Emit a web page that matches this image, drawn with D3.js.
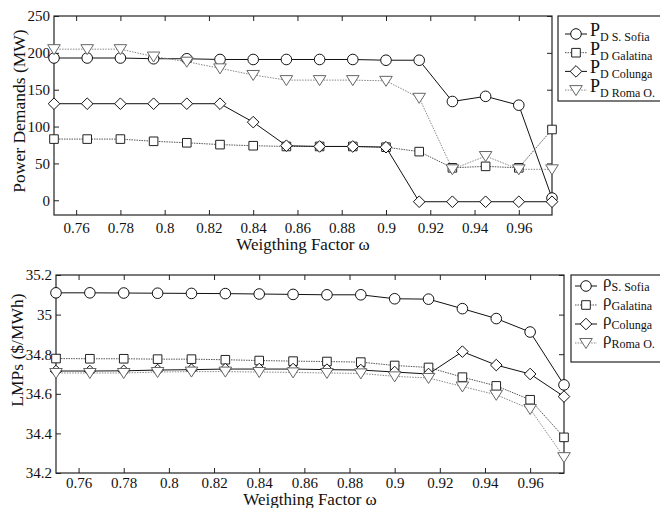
<!DOCTYPE html>
<html>
<head>
<meta charset="utf-8">
<script src="https://cdn.jsdelivr.net/npm/d3@7"></script>
</head>
<body style="margin:0; background:#fff">
<svg width="660" height="508"></svg>
<script>
// weighting factor values (x)
const omega = [0.75, 0.765, 0.78, 0.795, 0.81, 0.825, 0.84, 0.855, 0.87, 0.885, 0.9, 0.915, 0.93, 0.945, 0.96, 0.975];

// power demands (MW)
const pdSofia    = [193, 193, 193, 192, 192, 191, 191, 191, 191, 191, 190, 190, 134, 141, 129, 3];
const pdGalatina = [83, 83, 83, 80, 78, 75.5, 74, 73, 73, 73, 72, 66, 44, 46, 44, 96];
const pdColunga  = [131, 131, 131, 131, 131, 131, 106, 74, 73, 73, 72, -2, -2, -2, -2, -2];
const pdRoma     = [205, 205, 205, 195, 188, 179, 170, 163, 163, 163, 162, 139, 42, 60, 42, 42];

// LMPs ($/MWh)
const lmpSofia    = [35.11, 35.11, 35.109, 35.108, 35.107, 35.106, 35.104, 35.102, 35.10, 35.10, 35.08, 35.078, 35.03, 34.98, 34.912, 34.645];
const lmpGalatina = [34.778, 34.777, 34.777, 34.775, 34.775, 34.772, 34.768, 34.765, 34.763, 34.76, 34.743, 34.733, 34.684, 34.64, 34.57, 34.38];
const lmpColunga  = [34.715, 34.715, 34.716, 34.72, 34.722, 34.725, 34.725, 34.725, 34.722, 34.72, 34.71, 34.70, 34.813, 34.745, 34.70, 34.586];
const lmpRoma     = [34.705, 34.705, 34.705, 34.71, 34.712, 34.712, 34.71, 34.708, 34.705, 34.703, 34.688, 34.68, 34.637, 34.595, 34.523, 34.28];

const xTicks = [0.76, 0.78, 0.8, 0.82, 0.84, 0.86, 0.88, 0.9, 0.92, 0.94, 0.96];
const pdTicks = [0, 50, 100, 150, 200, 250];
const lmpTicks = [34.2, 34.4, 34.6, 34.8, 35, 35.2];

const names = ["S. Sofia", "Galatina", "Colunga", "Roma O."];
const shapes = ["circle", "square", "diamond", "tri"];
const lineColor = ["#111", "#555", "#111", "#888"];
const lineDash = [null, "1.5,1", null, "1.5,1.2"];
const markColor = ["#111", "#222", "#111", "#666"];

const svg = d3.select("svg");
svg.append("rect").attr("width", 660).attr("height", 508).attr("fill", "#fff");

// marker outlines, centred on the data point
function markerPath(shape) {
  switch (shape) {
    case "circle": return "M-5.3,0A5.3,5.3 0 1,0 5.3,0A5.3,5.3 0 1,0 -5.3,0Z";
    case "square": return "M-4.3,-4.3H4.3V4.3H-4.3Z";
    case "diamond": return "M0,-5.8L5.8,0L0,5.8L-5.8,0Z";
    case "tri": return "M-6.3,-4.5H6.3L0,5.5Z";
  }
}

function drawPanel(opt) {
  const x = d3.scaleLinear().domain([0.75, 0.975]).range([opt.left, opt.right]);
  const y = d3.scaleLinear().domain(opt.yDomain).range([opt.bottom, opt.top]);
  const g = svg.append("g");

  // axes with inward ticks
  g.append("g").attr("transform", `translate(0,${opt.bottom})`)
    .call(d3.axisBottom(x).tickValues(xTicks).tickSize(-5).tickSizeOuter(0).tickPadding(opt.xPad)
      .tickFormat(d => String(+d.toFixed(2))));
  g.append("g").attr("transform", `translate(0,${opt.top})`)
    .call(d3.axisTop(x).tickValues(xTicks).tickSize(-5).tickSizeOuter(0).tickFormat(""));
  g.append("g").attr("transform", `translate(${opt.left},0)`)
    .call(d3.axisLeft(y).tickValues(opt.yTicks).tickSize(-5).tickSizeOuter(0).tickPadding(4)
      .tickFormat(d => String(+d.toFixed(1))));
  g.append("g").attr("transform", `translate(${opt.right},0)`)
    .call(d3.axisRight(y).tickValues(opt.yTicks).tickSize(-5).tickSizeOuter(0).tickFormat(""));
  g.selectAll(".domain").remove();
  g.selectAll(".tick line").attr("stroke", "#222");
  g.selectAll(".tick text").attr("font-size", 15).attr("fill", "#111");

  // frame
  g.append("rect")
    .attr("x", opt.left).attr("y", opt.top)
    .attr("width", opt.right - opt.left).attr("height", opt.bottom - opt.top)
    .attr("fill", "none").attr("stroke", "#222").attr("stroke-width", 1.2);

  // series
  const line = d3.line().x((d, i) => x(omega[i])).y(d => y(d));
  opt.series.forEach((s, k) => {
    g.append("path").datum(s)
      .attr("d", line)
      .attr("fill", "none")
      .attr("stroke", lineColor[k])
      .attr("stroke-width", 1)
      .attr("stroke-dasharray", lineDash[k]);
  });
  opt.series.forEach((s, k) => {
    g.selectAll(null).data(s).enter().append("path")
      .attr("transform", (d, i) => `translate(${x(omega[i])},${y(d)})`)
      .attr("d", markerPath(shapes[k]))
      .attr("fill", "#fff")
      .attr("stroke", markColor[k])
      .attr("stroke-width", 1);
  });

  // axis labels
  g.append("text")
    .attr("x", (opt.left + opt.right) / 2).attr("y", opt.xLabelY)
    .attr("text-anchor", "middle").attr("font-size", 17).attr("fill", "#111")
    .text("Weigthing Factor ω");
  g.append("text")
    .attr("transform", `translate(${opt.yLabelX},${opt.yLabelMid}) rotate(-90)`)
    .attr("text-anchor", "middle").attr("font-size", 17.5).attr("fill", "#111")
    .text(opt.yLabel);

  // legend
  const L = opt.legend;
  g.append("rect")
    .attr("x", L.x).attr("y", L.y).attr("width", L.w).attr("height", L.h)
    .attr("fill", "#fff").attr("stroke", "#222").attr("stroke-width", 1.2);
  names.forEach((n, k) => {
    const cy = L.y + L.first + k * L.step;
    g.append("line")
      .attr("x1", L.mx - 11).attr("x2", L.mx + 11).attr("y1", cy).attr("y2", cy)
      .attr("stroke", lineColor[k]).attr("stroke-width", 1).attr("stroke-dasharray", lineDash[k]);
    g.append("path")
      .attr("transform", `translate(${L.mx},${cy})`)
      .attr("d", markerPath(shapes[k]))
      .attr("fill", "#fff").attr("stroke", markColor[k]).attr("stroke-width", 1);
    const t = g.append("text").attr("x", L.tx).attr("y", cy + L.baseOff).attr("fill", "#111");
    t.append("tspan").attr("font-size", L.mainSize).text(L.sym);
    t.append("tspan").attr("font-size", 12).attr("dy", L.subDy).text(L.subPrefix + n);
  });
}

drawPanel({
  left: 54, right: 552, top: 16, bottom: 215,
  yDomain: [-20, 250], yTicks: pdTicks,
  xPad: 7, xLabelY: 250,
  yLabel: "Power Demands (MW)", yLabelX: 25, yLabelMid: 111,
  series: [pdSofia, pdGalatina, pdColunga, pdRoma],
  legend: { x: 558, y: 16, w: 104, h: 85, first: 18, step: 18.7, mx: 576, tx: 590,
            baseOff: 2, subDy: 5, mainSize: 18, sym: "P", subPrefix: "D " }
});

drawPanel({
  left: 56, right: 564, top: 275, bottom: 473,
  yDomain: [34.2, 35.2], yTicks: lmpTicks,
  xPad: 4, xLabelY: 505,
  yLabel: "LMPs ($/MWh)", yLabelX: 23, yLabelMid: 350,
  series: [lmpSofia, lmpGalatina, lmpColunga, lmpRoma],
  legend: { x: 571, y: 275, w: 92, h: 87, first: 11, step: 19, mx: 586, tx: 603,
            baseOff: 1, subDy: 4, mainSize: 17, sym: "ρ", subPrefix: "" }
});

// serif face set on every text node directly
svg.selectAll("text").attr("font-family", "Liberation Serif");
</script>
</body>
</html>
